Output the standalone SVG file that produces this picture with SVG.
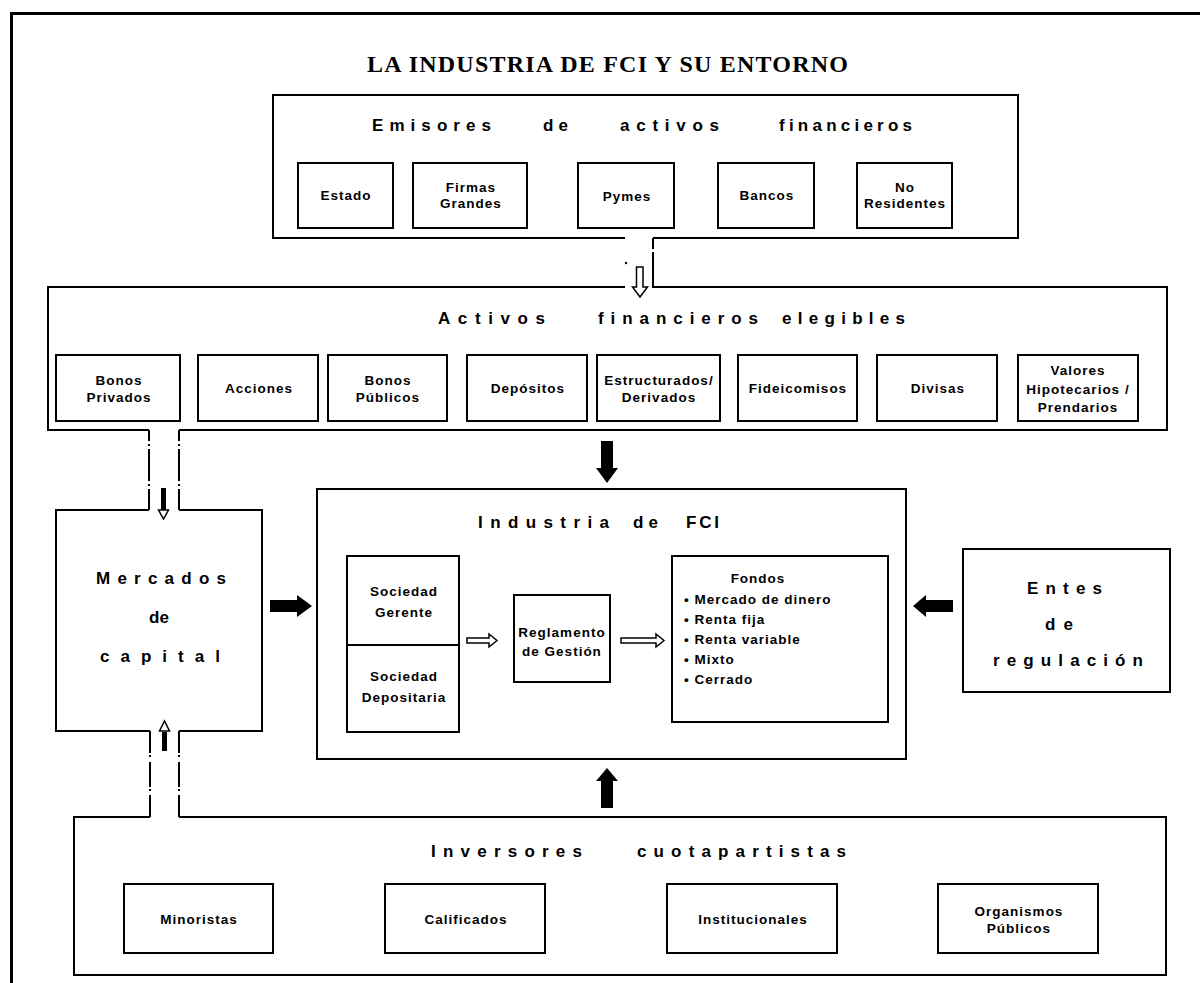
<svg xmlns="http://www.w3.org/2000/svg" width="1200" height="983" viewBox="0 0 1200 983">
<style>
.frame{fill:none;stroke:#000;stroke-width:3}
.box{fill:none;stroke:#000;stroke-width:2}
.wall1{fill:none;stroke:#000;stroke-width:2;stroke-dasharray:11 3 2 3 32 3 2 3 60 0}
.wall2{fill:none;stroke:#000;stroke-width:2;stroke-dasharray:22 2 2 5 25 2 2 4 40 0}
.lbl{font-family:"Liberation Sans",Arial,sans-serif;font-weight:bold;font-size:13.5px;letter-spacing:1px;text-anchor:middle;fill:#000}
.lst{text-anchor:start}
.ttl{font-family:"Liberation Sans",Arial,sans-serif;font-weight:bold;font-size:17px;fill:#000}
.main{font-family:"Liberation Serif","Times New Roman",serif;font-weight:bold;font-size:24px;fill:#000}
.solid{fill:#000;stroke:none}
.hollow{fill:#fff;stroke:#000;stroke-width:1.5}
</style>
<rect x="0" y="0" width="1200" height="983" fill="#fff"/>
<path class="frame" d="M11.5,983 V13.5 H1200"/>
<text class="main" x="367" y="72" textLength="481" lengthAdjust="spacing">LA INDUSTRIA DE FCI Y SU ENTORNO</text>

<g id="emisores">
<path class="box" d="M625,238 H273 V95 H1018 V238 H653"/>
<text class="ttl" x="372" y="131" textLength="119" lengthAdjust="spacing">Emisores</text>
<text class="ttl" x="543" y="131" textLength="25" lengthAdjust="spacing">de</text>
<text class="ttl" x="620" y="131" textLength="99" lengthAdjust="spacing">activos</text>
<text class="ttl" x="779" y="131" textLength="133" lengthAdjust="spacing">financieros</text>
<g id="estado"><rect class="box" x="298" y="163" width="95" height="65"/><text class="lbl" x="346" y="200">Estado</text></g>
<g id="firmas"><rect class="box" x="413" y="163" width="114" height="65"/><text class="lbl" x="471" y="192">Firmas</text><text class="lbl" x="471" y="208">Grandes</text></g>
<g id="pymes"><rect class="box" x="578" y="163" width="96" height="65"/><text class="lbl" x="627" y="201">Pymes</text></g>
<g id="bancos"><rect class="box" x="718" y="163" width="96" height="65"/><text class="lbl" x="767" y="200">Bancos</text></g>
<g id="noresidentes"><rect class="box" x="857" y="163" width="95" height="65"/><text class="lbl" x="905" y="192">No</text><text class="lbl" x="905" y="208">Residentes</text></g>
</g>

<g id="activos">
<path class="box" d="M653,238 V249 M653,252 V287 H1167 V430 H179 M149,430 H48 V287 H625"/>
<text class="ttl" x="438" y="324" textLength="107" lengthAdjust="spacing">Activos</text>
<text class="ttl" x="598" y="324" textLength="160" lengthAdjust="spacing">financieros</text>
<text class="ttl" x="782" y="324" textLength="123" lengthAdjust="spacing">elegibles</text>
<g id="bonospriv"><rect class="box" x="56" y="355" width="124" height="66"/><text class="lbl" x="119" y="385">Bonos</text><text class="lbl" x="119" y="402">Privados</text></g>
<g id="acciones"><rect class="box" x="198" y="355" width="120" height="66"/><text class="lbl" x="259" y="393">Acciones</text></g>
<g id="bonospub"><rect class="box" x="328" y="355" width="119" height="66"/><text class="lbl" x="388" y="385">Bonos</text><text class="lbl" x="388" y="402">Públicos</text></g>
<g id="depositos"><rect class="box" x="467" y="355" width="120" height="66"/><text class="lbl" x="528" y="393">Depósitos</text></g>
<g id="estructurados"><rect class="box" x="597" y="355" width="123" height="66"/><text class="lbl" x="659" y="385">Estructurados/</text><text class="lbl" x="659" y="402">Derivados</text></g>
<g id="fideicomisos"><rect class="box" x="738" y="355" width="119" height="66"/><text class="lbl" x="798" y="393">Fideicomisos</text></g>
<g id="divisas"><rect class="box" x="877" y="355" width="120" height="66"/><text class="lbl" x="938" y="393">Divisas</text></g>
<g id="valores"><rect class="box" x="1018" y="355" width="120" height="66"/><text class="lbl" x="1078" y="375">Valores</text><text class="lbl" x="1078" y="394">Hipotecarios /</text><text class="lbl" x="1078" y="412">Prendarios</text></g>
</g>

<g id="mercados">
<path class="box" d="M149,510 H56 V731 H150 M179,731 H262 V510 H179"/>
<text class="ttl" x="96" y="584" textLength="130" lengthAdjust="spacing">Mercados</text>
<text class="ttl" x="149" y="623" textLength="20" lengthAdjust="spacing">de</text>
<text class="ttl" x="100" y="662" textLength="120" lengthAdjust="spacing">capital</text>
</g>

<g id="industria">
<rect class="box" x="317" y="489" width="589" height="270"/>
<text class="ttl" x="478" y="528" textLength="131" lengthAdjust="spacing">Industria</text>
<text class="ttl" x="633" y="528" textLength="25" lengthAdjust="spacing">de</text>
<text class="ttl" x="686" y="528" textLength="33" lengthAdjust="spacing">FCI</text>
<g id="sociedad">
<rect class="box" x="347" y="556" width="112" height="176"/>
<line class="box" x1="347" y1="645" x2="459" y2="645"/>
<text class="lbl" x="404" y="596">Sociedad</text><text class="lbl" x="404" y="617">Gerente</text>
<text class="lbl" x="404" y="681">Sociedad</text><text class="lbl" x="404" y="702">Depositaria</text>
</g>
<g id="reglamento">
<rect class="box" x="514" y="595" width="96" height="87"/>
<text class="lbl" x="562" y="637">Reglamento</text><text class="lbl" x="562" y="656">de Gestión</text>
</g>
<g id="fondos">
<rect class="box" x="672" y="556" width="216" height="166"/>
<text class="lbl" x="758" y="583">Fondos</text>
<text class="lbl lst" x="684" y="604">• Mercado de dinero</text>
<text class="lbl lst" x="684" y="624">• Renta fija</text>
<text class="lbl lst" x="684" y="644">• Renta variable</text>
<text class="lbl lst" x="684" y="664">• Mixto</text>
<text class="lbl lst" x="684" y="684">• Cerrado</text>
</g>
</g>

<g id="entes">
<rect class="box" x="963" y="549" width="207" height="143"/>
<text class="ttl" x="1027" y="594" textLength="75" lengthAdjust="spacing">Entes</text>
<text class="ttl" x="1045" y="630" textLength="28" lengthAdjust="spacing">de</text>
<text class="ttl" x="993" y="666" textLength="150" lengthAdjust="spacing">regulación</text>
</g>

<g id="inversores">
<path class="box" d="M150,817 H74 V975 H1166 V817 H179"/>
<text class="ttl" x="431" y="857" textLength="151" lengthAdjust="spacing">Inversores</text>
<text class="ttl" x="637" y="857" textLength="209" lengthAdjust="spacing">cuotapartistas</text>
<g id="minoristas"><rect class="box" x="124" y="884" width="149" height="69"/><text class="lbl" x="199" y="924">Minoristas</text></g>
<g id="calificados"><rect class="box" x="385" y="884" width="160" height="69"/><text class="lbl" x="466" y="924">Calificados</text></g>
<g id="institucionales"><rect class="box" x="667" y="884" width="170" height="69"/><text class="lbl" x="753" y="924">Institucionales</text></g>
<g id="organismos"><rect class="box" x="938" y="884" width="160" height="69"/><text class="lbl" x="1019" y="916">Organismos</text><text class="lbl" x="1019" y="933">Públicos</text></g>
</g>

<g id="connectors">
<circle cx="626" cy="263" r="1.2" fill="#000"/>
<path class="hollow" d="M636.5,267 H643 V287 H647.5 L640,297 L632.5,287 H636.5 Z"/>
<path class="wall1" d="M149,430 V510"/>
<path class="wall1" d="M179,430 V510"/>
<rect class="solid" x="161" y="488" width="5" height="22"/>
<path class="hollow" d="M158.5,510 H168.5 L163.5,519 Z"/>
<path class="wall2" d="M150,731 V817"/>
<path class="wall2" d="M179,731 V817"/>
<rect class="solid" x="162" y="732" width="5" height="19"/>
<path class="hollow" d="M159.5,731 H169.5 L164.5,721 Z"/>
<path class="solid" d="M601,441 H613 V468 H618 L607,483 L596,468 H601 Z"/>
<path class="solid" d="M601,808 H613 V781 H618 L607,768 L596,781 H601 Z"/>
<path class="solid" d="M270,600 H297 V595 L312,606 L297,617 V612 H270 Z"/>
<path class="solid" d="M953,600 H926 V595 L913,606 L926,617 V612 H953 Z"/>
<path class="hollow" d="M467,638 H489 V634 L497,640.5 L489,647 V643 H467 Z"/>
<path class="hollow" d="M621,638 H656 V634 L664,640.5 L656,647 V643 H621 Z"/>
</g>
</svg>
